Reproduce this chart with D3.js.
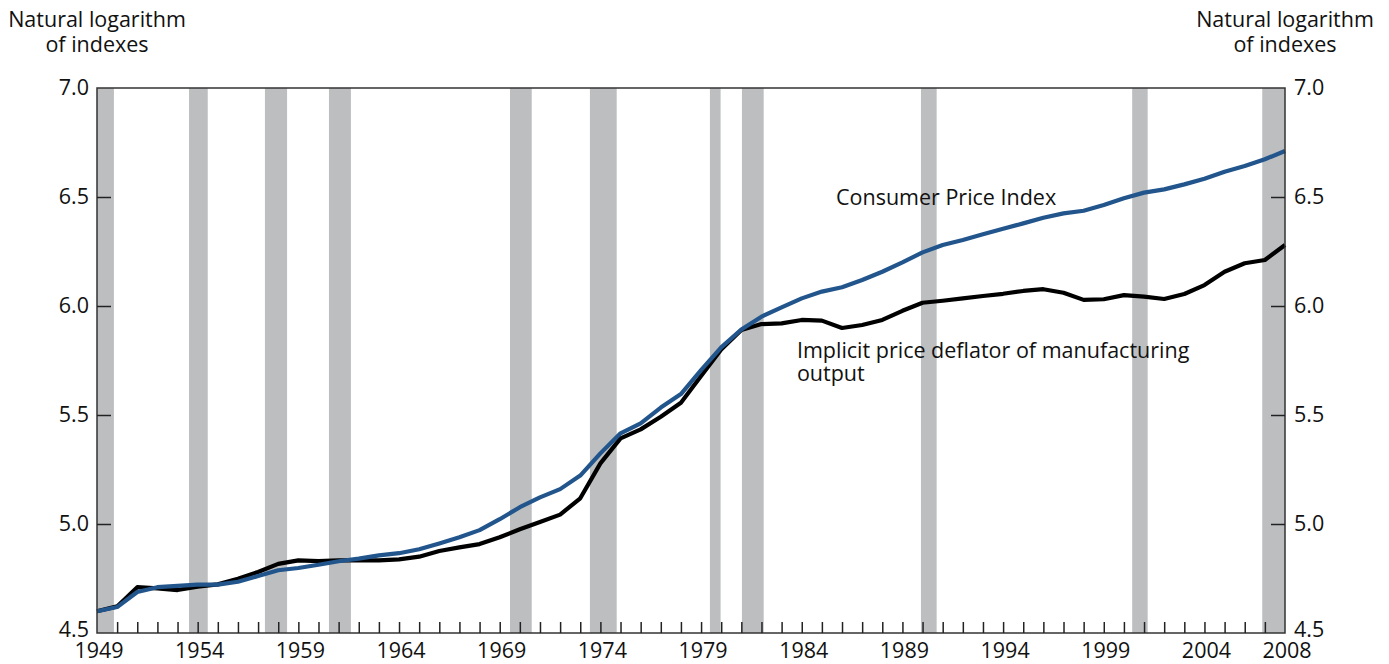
<!DOCTYPE html>
<html>
<head>
<meta charset="utf-8">
<script src="https://cdn.jsdelivr.net/npm/d3@7"></script>
<style>
  body { margin: 0; background: #fff; }
  text { font-family: "Open Sans", "Noto Sans", sans-serif; fill: #111; }
</style>
</head>
<body>
<div id="chart"></div>
<script>
// Years 1949..2008
var years = d3.range(1949, 2009);

// Consumer Price Index, natural log of index
var cpi = [4.600, 4.619, 4.688, 4.710, 4.716, 4.722, 4.722, 4.735, 4.761, 4.788,
           4.798, 4.813, 4.829, 4.841, 4.856, 4.866, 4.884, 4.911, 4.939, 4.972,
           5.022, 5.077, 5.122, 5.160, 5.222, 5.324, 5.416, 5.462, 5.534, 5.596,
           5.706, 5.810, 5.892, 5.951, 5.994, 6.035, 6.066, 6.086, 6.119, 6.157,
           6.200, 6.246, 6.280, 6.303, 6.329, 6.354, 6.379, 6.405, 6.425, 6.437,
           6.463, 6.494, 6.520, 6.535, 6.558, 6.584, 6.616, 6.642, 6.673, 6.711];

// Implicit price deflator of manufacturing output
var deflator = [4.600, 4.622, 4.710, 4.705, 4.697, 4.713, 4.723, 4.749, 4.780, 4.817,
                4.833, 4.830, 4.833, 4.833, 4.833, 4.838, 4.850, 4.876, 4.893, 4.908,
                4.939, 4.976, 5.009, 5.043, 5.118, 5.278, 5.393, 5.434, 5.492, 5.556,
                5.679, 5.800, 5.890, 5.917, 5.920, 5.936, 5.933, 5.899, 5.913, 5.936,
                5.978, 6.015, 6.024, 6.035, 6.046, 6.056, 6.069, 6.077, 6.061, 6.028,
                6.031, 6.050, 6.043, 6.032, 6.055, 6.096, 6.157, 6.196, 6.211, 6.280];

// Recession periods (shaded)
var recessionStart = [1949.0, 1953.57, 1957.34, 1960.52, 1969.51, 1973.48, 1979.44, 1981.03, 1989.92, 2000.41, 2006.87];
var recessionEnd   = [1949.84, 1954.50, 1958.44, 1961.61, 1970.59, 1974.81, 1979.97, 1982.11, 1990.70, 2001.18, 2008.0];

var xTickLabels = [1949, 1954, 1959, 1964, 1969, 1974, 1979, 1984, 1989, 1994, 1999, 2004, 2008];
var yTickValues = [4.5, 5.0, 5.5, 6.0, 6.5, 7.0];

// Basic size information
var margin = {top: 88, right: 104, bottom: 31, left: 97},
    width = 1389 - margin.left - margin.right,
    height = 664 - margin.top - margin.bottom,
    fontSize = "21.5px";

var x = d3.scaleLinear().domain([1949, 2008]).range([0, width]);
var y = d3.scaleLinear().domain([4.5, 7.0]).range([height, 0]);

var svg = d3.select("#chart")
    .append("svg")
        .attr("width", 1389)
        .attr("height", 664)
    .append("g")
        .attr("transform", "translate(" + margin.left + "," + margin.top + ")");

// Recession bars
svg.selectAll(".rec")
    .data(recessionStart)
    .enter().append("rect")
    .attr("class", "rec")
    .attr("x", function (d) {return x(d);})
    .attr("y", 0)
    .attr("width", function (d, i) {return x(recessionEnd[i]) - x(d);})
    .attr("height", height)
    .attr("fill", "#bcbec0");

// Lines
var line = d3.line()
    .x(function (d, i) {return x(years[i]);})
    .y(function (d) {return y(d);});

svg.append("path")
    .datum(deflator)
    .attr("d", line)
    .attr("fill", "none")
    .attr("stroke", "#000")
    .attr("stroke-width", 4.2)
    .attr("stroke-linejoin", "round");

svg.append("path")
    .datum(cpi)
    .attr("d", line)
    .attr("fill", "none")
    .attr("stroke", "#21558c")
    .attr("stroke-width", 4.2)
    .attr("stroke-linejoin", "round");

// Frame
svg.append("rect")
    .attr("width", width)
    .attr("height", height)
    .attr("fill", "none")
    .attr("stroke", "#333")
    .attr("stroke-width", 1.5);

// Bottom axis: ticks every year pointing inward
var xAxis = svg.append("g")
    .attr("transform", "translate(0," + height + ")")
    .call(d3.axisBottom(x)
        .tickValues(d3.range(1950, 2008))
        .tickSize(-11)
        .tickFormat(""));
xAxis.select(".domain").remove();
xAxis.selectAll("line").attr("stroke", "#222").attr("stroke-width", 1.5);

svg.selectAll(".xlab")
    .data(xTickLabels)
    .enter().append("text")
    .attr("class", "xlab")
    .attr("x", function (d) {return x(d) + 2;})
    .attr("y", height + 24.5)
    .attr("text-anchor", "middle")
    .style("font-size", fontSize)
    .text(function (d) {return d;});

// Left axis
var yLeft = svg.append("g")
    .call(d3.axisLeft(y)
        .tickValues(yTickValues.slice(1, 5))
        .tickSize(-14)
        .tickFormat(""));
yLeft.select(".domain").remove();
yLeft.selectAll("line").attr("stroke", "#222").attr("stroke-width", 1.5);

// Right axis
var yRight = svg.append("g")
    .attr("transform", "translate(" + width + ",0)")
    .call(d3.axisRight(y)
        .tickValues(yTickValues.slice(1, 5))
        .tickSize(-14)
        .tickFormat(""));
yRight.select(".domain").remove();
yRight.selectAll("line").attr("stroke", "#222").attr("stroke-width", 1.5);

svg.selectAll(".ylabL")
    .data(yTickValues)
    .enter().append("text")
    .attr("x", -8)
    .attr("y", function (d) {return y(d) + (d === 4.5 ? 4 : 7);})
    .attr("text-anchor", "end")
    .style("font-size", fontSize)
    .text(function (d) {return d3.format(".1f")(d);});

svg.selectAll(".ylabR")
    .data(yTickValues)
    .enter().append("text")
    .attr("x", width + 9)
    .attr("y", function (d) {return y(d) + (d === 4.5 ? 4 : 7);})
    .attr("text-anchor", "start")
    .style("font-size", fontSize)
    .text(function (d) {return d3.format(".1f")(d);});

// Axis titles
[0, width].forEach(function (xpos) {
    var t = svg.append("text")
        .attr("text-anchor", "middle")
        .style("font-size", fontSize);
    t.append("tspan").attr("x", xpos).attr("y", -61).text("Natural logarithm");
    t.append("tspan").attr("x", xpos).attr("y", -36).text("of indexes");
});

// Series labels
svg.append("text")
    .attr("x", x(1985.7))
    .attr("y", y(6.5) + 8)
    .style("font-size", fontSize)
    .text("Consumer Price Index");

var lbl = svg.append("text").style("font-size", fontSize);
lbl.append("tspan").attr("x", x(1983.76)).attr("y", y(5.77) + 2).text("Implicit price deflator of manufacturing");
lbl.append("tspan").attr("x", x(1983.76)).attr("y", y(5.77) + 25).text("output");
</script>
</body>
</html>
